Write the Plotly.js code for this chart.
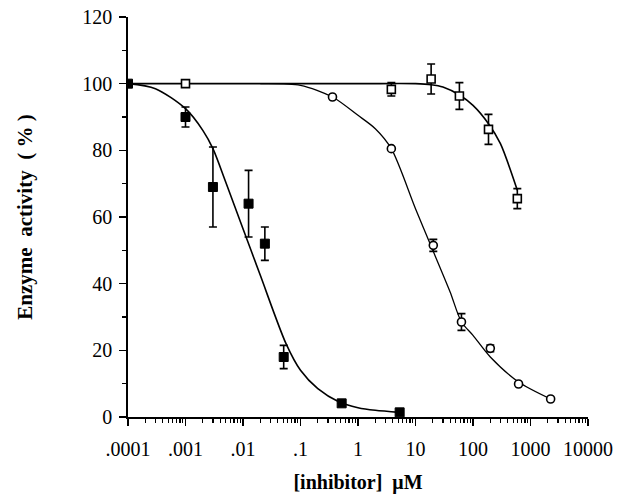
<!DOCTYPE html>
<html>
<head>
<meta charset="utf-8">
<script src="https://cdn.plot.ly/plotly-3.0.1.min.js"></script>
<style>html,body{margin:0;padding:0;background:#fff;}#chart{width:621px;height:501px;}</style>
</head>
<body>
<div id="chart"></div>
<script>
// ---- data ----
// filled squares
const xFilled = [0.0001, 0.001, 0.003, 0.0125, 0.024, 0.051, 0.52, 5.3];
const yFilled = [100, 90, 69, 64, 52, 18, 4.1, 1.4];
const eFilled = [0, 3, 12, 10, 5, 3.5, 0, 0];
// open circles
const xCircle = [0.36, 3.8, 20.4, 63, 200, 620, 2240];
const yCircle = [96, 80.5, 51.5, 28.5, 20.6, 9.9, 5.4];
const eCircle = [0, 0, 1.8, 2.5, 1, 0, 0];
// open squares
const xSquare = [0.001, 3.8, 18.7, 58, 186, 590];
const ySquare = [100, 98.3, 101.4, 96.3, 86.3, 65.5];
const eSquare = [0, 2, 4.5, 4, 4.5, 3];
// fitted curves
const xCurveA = [0.0001, 0.0003, 0.001, 0.002, 0.003, 0.005, 0.01, 0.02, 0.056, 0.1, 0.2, 0.47, 1, 2, 5.3];
const yCurveA = [100, 98.5, 92.5, 86, 80.5, 70.5, 56.5, 42.5, 22, 14, 8.5, 4.5, 2.8, 2, 1.4];
const xCurveB = [0.02, 0.1, 0.36, 1, 2, 3.8, 10, 20, 40, 63, 100, 200, 620, 2240];
const yCurveB = [100, 99.5, 96, 90.5, 86.5, 80.5, 62.5, 50, 37.5, 28.5, 24.5, 18, 10.5, 5.4];
const xCurveC = [0.0001, 1, 10, 18.7, 30, 58, 100, 186, 300, 590];
const yCurveC = [100, 100, 100, 99.7, 99, 96.6, 93.5, 88, 82, 68];
// axis ticks
const xTickVals = [0.0001, 0.001, 0.01, 0.1, 1, 10, 100, 1000, 10000];
const xTickText = ['.0001', '.001', '.01', '.1', '1', '10', '100', '1000', '10000'];
const yTickVals = [0, 20, 40, 60, 80, 100, 120];

const serif = 'Liberation Serif, Times New Roman, serif';
const lineStyle = {color: '#000', width: 1.6, shape: 'spline', smoothing: 0.8};
const errStyle = (arr) => ({type: 'data', array: arr, visible: true, color: '#000', thickness: 1.6, width: 4});

const traces = [
  {x: xCurveA, y: yCurveA, mode: 'lines', line: lineStyle, hoverinfo: 'skip'},
  {x: xCurveB, y: yCurveB, mode: 'lines', line: {...lineStyle, width: 1.3}, hoverinfo: 'skip'},
  {x: xCurveC, y: yCurveC, mode: 'lines', line: lineStyle, hoverinfo: 'skip'},
  {x: xFilled, y: yFilled, mode: 'markers', error_y: errStyle(eFilled),
   marker: {symbol: 'square', size: 9, color: '#000', line: {color: '#000', width: 1}}},
  {x: xCircle, y: yCircle, mode: 'markers', error_y: errStyle(eCircle),
   marker: {symbol: 'circle', size: 8, color: '#fff', line: {color: '#000', width: 1.6}}},
  {x: xSquare, y: ySquare, mode: 'markers', error_y: errStyle(eSquare),
   marker: {symbol: 'square', size: 8, color: '#fff', line: {color: '#000', width: 1.6}}}
];

const layout = {
  width: 621, height: 501,
  margin: {l: 128, r: 33, t: 17, b: 84},
  paper_bgcolor: '#fff', plot_bgcolor: '#fff',
  showlegend: false,
  font: {family: serif, size: 20, color: '#000'},
  xaxis: {
    type: 'log', range: [-4, 4],
    tickvals: xTickVals, ticktext: xTickText,
    ticks: 'outside', ticklen: 7, tickwidth: 1.5, tickcolor: '#000',
    minor: {ticks: 'outside', dtick: 'D1', ticklen: 4, tickwidth: 1.2, tickcolor: '#000'},
    showline: true, linecolor: '#000', linewidth: 1.8,
    showgrid: false, zeroline: false,
    tickfont: {family: serif, size: 20, color: '#000'},
    ticklabelstandoff: 6,
    title: {text: '<b>[inhibitor]  μM</b>', font: {family: serif, size: 20, color: '#000'}, standoff: 16},
    automargin: false
  },
  yaxis: {
    range: [0, 120],
    tickvals: yTickVals,
    ticks: 'outside', ticklen: 7, tickwidth: 1.5, tickcolor: '#000',
    minor: {ticks: 'outside', dtick: 10, ticklen: 4, tickwidth: 1.2, tickcolor: '#000'},
    showline: true, linecolor: '#000', linewidth: 1.8,
    showgrid: false, zeroline: false,
    tickfont: {family: serif, size: 20, color: '#000'},
    ticklabelstandoff: 3,
    title: {text: '<b>Enzyme\u00A0\u00A0activity\u00A0\u00A0(\u00A0%\u00A0)</b>', font: {family: serif, size: 21, color: '#000'}, standoff: 44},
    automargin: false
  }
};

Plotly.newPlot('chart', traces, layout, {staticPlot: true, displayModeBar: false});
</script>
</body>
</html>
